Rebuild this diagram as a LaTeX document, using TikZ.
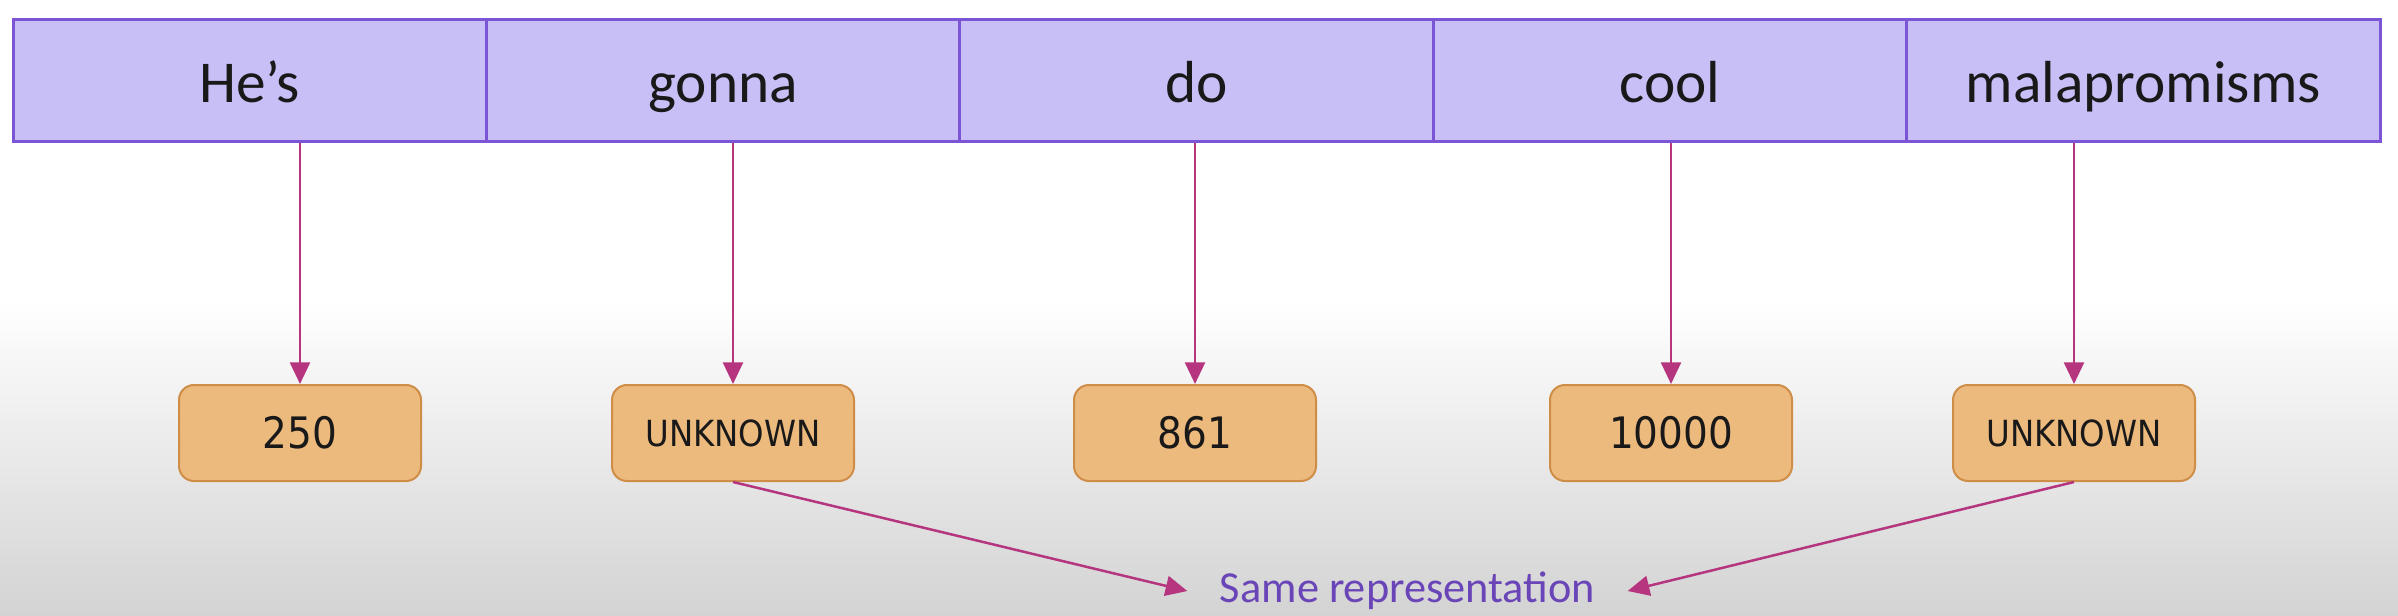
\documentclass[tikz,border=0pt]{standalone}
\usepackage{fontspec}
\setmainfont{Carlito}
\newfontfamily\boxfont{DejaVu Sans Condensed}
\usetikzlibrary{arrows.meta}
\definecolor{barfill}{HTML}{C8BFF7}
\definecolor{barline}{HTML}{7B55D6}
\definecolor{boxfill}{HTML}{EDBA7E}
\definecolor{boxline}{HTML}{CF8E48}
\definecolor{arrcol}{HTML}{B5357F}
\definecolor{labcol}{HTML}{6A45B8}
\definecolor{bggray}{HTML}{D3D3D3}
\tikzset{
  cell/.style={draw=barline, fill=barfill, line width=0.9pt, minimum width=142.02pt, minimum height=36.6pt, inner sep=0pt, text height=13.2pt, text depth=0pt, font=\fontsize{17.8pt}{20pt}\selectfont, text=black!90},
  idbox/.style={draw=boxline, fill=boxfill, line width=0.6pt, rounded corners=4.5pt, minimum width=72.6pt, minimum height=28.8pt, inner sep=0pt, font=\boxfont\fontsize{13pt}{15pt}\selectfont, text=black!90},
  unkbox/.style={idbox, font=\boxfont\fontsize{10.8pt}{12pt}\selectfont},
  arr/.style={draw=arrcol, line width=0.75pt, -{Triangle[length=6.5pt,width=6pt]}},
}
\begin{document}
\begin{tikzpicture}[x=0.3pt, y=-0.3pt]
\useasboundingbox (0,0) rectangle (2398,616);
\fill[white] (0,0) rectangle (2398,301);
\shade[top color=white, bottom color=bggray] (0,300) rectangle (2398,616);
% word cells
\node[cell] (c1) at (249.7,81) {He’s};
\node[cell] (c2) at (723.1,81) {gonna};
\node[cell] (c3) at (1196.5,81) {do};
\node[cell] (c4) at (1669.9,81) {cool};
\node[cell] (c5) at (2143.3,81) {malapromisms};
% id boxes
\node[idbox] (b1) at (300,433) {250};
\node[unkbox] (b2) at (733,433) {UNKNOWN};
\node[idbox] (b3) at (1195,433) {861};
\node[idbox] (b4) at (1671,433) {10000};
\node[unkbox] (b5) at (2074,433) {UNKNOWN};
% label
\node[text=labcol, font=\fontsize{13.3pt}{15pt}\selectfont, inner xsep=9.6pt, inner ysep=0pt] (lab) at (1407.5,591) {Same representation};
% arrows
\foreach \i in {1,...,5}{
  \draw[arr] (b\i.north |- c\i.south) -- (b\i.north);
}
\draw[arr] (b2.south) -- (lab.west);
\draw[arr] (b5.south) -- (lab.east);
\end{tikzpicture}
\end{document}
